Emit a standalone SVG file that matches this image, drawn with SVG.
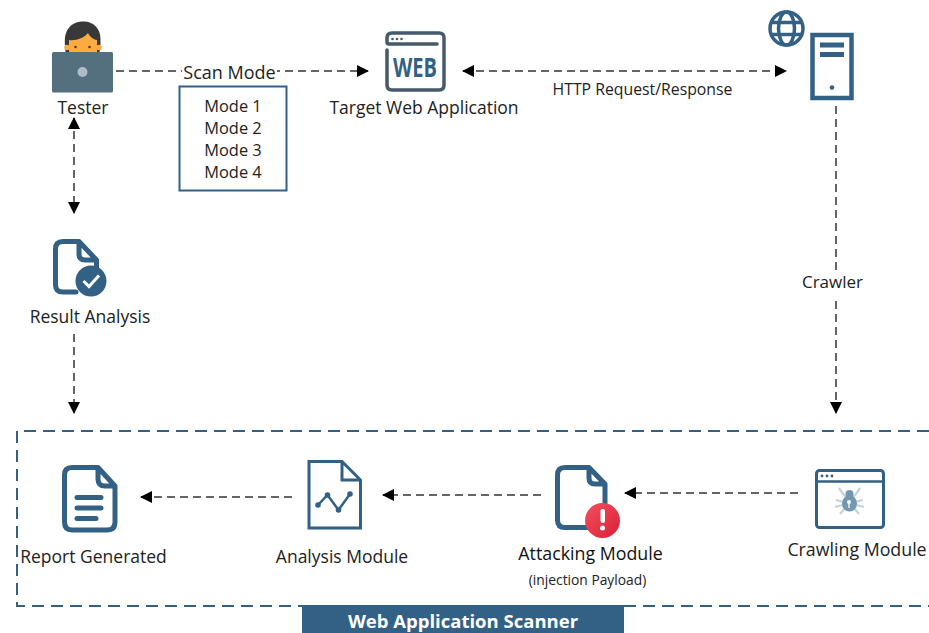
<svg xmlns="http://www.w3.org/2000/svg" width="929" height="633" viewBox="0 0 929 633">
<style>
text{font-family:"Open Sans","Noto Sans","Liberation Sans",sans-serif;fill:#222}
.l{font-size:17.500px;text-anchor:middle}
.c{fill:none;stroke:#333;stroke-width:1.5;stroke-dasharray:8 5}
.i{fill:none;stroke:#336186;stroke-width:5;stroke-linejoin:round;stroke-linecap:round}
.g{fill:none;stroke:#475a6b;stroke-width:3.5;stroke-linejoin:round;stroke-linecap:round}
</style>
<defs>
<marker id="a" viewBox="0 0 12 12" refX="11" refY="6" markerUnits="userSpaceOnUse" markerWidth="12" markerHeight="12" orient="auto-start-reverse"><path d="M0 0L12 6L0 12Z" fill="#000"/></marker>
<linearGradient id="r" x1="0" y1="0" x2="1" y2="1"><stop offset="0" stop-color="#f4505f"/><stop offset="1" stop-color="#d91f35"/></linearGradient>
</defs>
<rect width="929" height="633" fill="#fff"/>
<g id="connectors">
<path class="c" d="M116 71H368" marker-end="url(#a)"/>
<path class="c" d="M463 71H786" marker-start="url(#a)" marker-end="url(#a)"/>
<path class="c" d="M74 118V213" marker-start="url(#a)" marker-end="url(#a)"/>
<path class="c" d="M74 334V413" marker-end="url(#a)"/>
<path class="c" d="M836 106V413" marker-end="url(#a)"/>
<path class="c" d="M292 497H141" marker-end="url(#a)"/>
<path class="c" d="M541 495H383" marker-end="url(#a)"/>
<path class="c" d="M798 493H625" marker-end="url(#a)"/>
</g>
<g id="scanner-boundary">
<path d="M929 431H17V606H302M624 606H929" fill="none" stroke="#336186" stroke-width="2" stroke-dasharray="12 7"/>
</g>
<g id="scanner-banner">
<rect x="302" y="605" width="322" height="28" fill="#336186"/>
<text x="463" y="628" font-size="18.500" font-weight="700" text-anchor="middle" style="fill:#fff">Web Application Scanner</text>
</g>
<g id="scan-mode-label">
<rect x="182" y="60" width="95" height="24" fill="#fff"/>
<text x="229.500" y="79" font-size="18" text-anchor="middle">Scan Mode</text>
</g>
<g id="modes">
<rect x="179.500" y="86.500" width="107" height="104" fill="#fff" stroke="#336186" stroke-width="2"/>
<text x="233" y="112" font-size="16.400" text-anchor="middle">Mode 1</text>
<text x="233" y="134" font-size="16.400" text-anchor="middle">Mode 2</text>
<text x="233" y="156" font-size="16.400" text-anchor="middle">Mode 3</text>
<text x="233" y="178" font-size="16.400" text-anchor="middle">Mode 4</text>
</g>
<g id="tester">
<path d="M65.500 52C64.500 42 64 35 68 29C72 23 78 21.500 84 21.500C93 21.500 100.500 28 100.500 39C100.500 44 100.500 48 99.500 52Z" fill="#383838"/>
<path d="M69 52V40C76 41 84 38 88 33C90 37 94 40 97 40V52Z" fill="#fbab3f"/>
<circle cx="67" cy="47.500" r="2.800" fill="#fbab3f"/><circle cx="99" cy="47.500" r="2.800" fill="#fbab3f"/>
<circle cx="75.500" cy="47" r="1.300" fill="#5c3a12"/><circle cx="89.500" cy="47" r="1.300" fill="#5c3a12"/>
<rect x="52" y="52" width="61" height="40.500" rx="1.500" fill="#54707f"/>
<circle cx="82.500" cy="72" r="5" fill="#aebcc5"/>
<text x="83" y="114" class="l">Tester</text>
</g>
<g id="target-web-application">
<path class="g" d="M387 50V85Q387 90 392 90H439Q444 90 444 85V38Q444 33 439 33H392Q387 33 387 38V42Q387 44 389 44H437"/>
<circle cx="392.500" cy="39" r="1.300" fill="#475a6b"/><circle cx="397" cy="39" r="1.300" fill="#475a6b"/><circle cx="401.500" cy="39" r="1.300" fill="#475a6b"/>
<text x="415" y="76.500" font-size="26" font-weight="700" text-anchor="middle" style="fill:#336186" textLength="44" lengthAdjust="spacingAndGlyphs">WEB</text>
<text class="l" x="424" y="114">Target Web Application</text>
</g>
<g id="http-label"><text x="642.500" y="95" font-size="15.800" text-anchor="middle">HTTP Request/Response</text></g>
<g id="server">
<g fill="none" stroke="#336186" stroke-width="3.500">
<circle cx="786.500" cy="28.500" r="16.500"/>
<ellipse cx="786.500" cy="28.500" rx="8" ry="16.500"/>
<path d="M771 22.500H802M771 34.500H802"/>
</g>
<rect x="812.500" y="35" width="39" height="63" fill="none" stroke="#336186" stroke-width="4.500"/>
<rect x="820" y="42.500" width="24" height="5" fill="#336186"/>
<rect x="820" y="52" width="24" height="5" fill="#336186"/>
<circle cx="832" cy="87.500" r="2.300" fill="#336186"/>
</g>
<g id="crawler-label">
<rect x="800" y="270" width="66" height="26" fill="#fff"/>
<text x="832.500" y="288" font-size="17" text-anchor="middle">Crawler</text>
</g>
<g id="result-analysis">
<path class="i" d="M76 292H63Q55.500 292 55.500 285V249Q55.500 241.500 63 241.500H79L96.500 260V268M79 241.500V254Q79 260 85 260H96"/>
<circle cx="91" cy="281" r="15.500" fill="#336186"/>
<path d="M83.500 281L89 286.500L99 275.500" fill="none" stroke="#fff" stroke-width="3"/>
<text class="l" x="90" y="323">Result Analysis</text>
</g>
<g id="report-generated">
<path class="i" d="M98 467.500H72Q64.500 467.500 64.500 475V522Q64.500 530 72 530H107Q115 530 115 522V486ZM98 467.500V479Q98 486 105 486H115"/>
<path d="M77 497.500H101M77 508H101M77 518.500H96" fill="none" stroke="#336186" stroke-width="5" stroke-linecap="round"/>
<text class="l" x="93.500" y="563">Report Generated</text>
</g>
<g id="analysis-module">
<path d="M309 461.500H342L360.500 480V528H309ZM342 461.500V480H360.500" fill="none" stroke="#336186" stroke-width="3"/>
<path d="M318 505L327.500 495L338.500 510L350 494" fill="none" stroke="#336186" stroke-width="2.500"/>
<circle cx="318" cy="505" r="2.800" fill="#336186"/><circle cx="327.500" cy="495" r="2.800" fill="#336186"/><circle cx="338.500" cy="510" r="2.800" fill="#336186"/><circle cx="350" cy="494" r="2.800" fill="#336186"/>
<text class="l" x="342" y="563">Analysis Module</text>
</g>
<g id="attacking-module">
<path class="i" d="M590 527.500H565Q557.500 527.500 557.500 520V475Q557.500 467.500 565 467.500H589L605 484V505M589 467.500V478Q589 484 595 484H605"/>
<circle cx="602.500" cy="520.500" r="17.500" fill="url(#r)"/>
<rect x="600.500" y="509" width="4.500" height="14" rx="2" fill="#fff"/>
<circle cx="602.500" cy="528" r="2.500" fill="#fff"/>
<text x="590.500" y="560" font-size="17.800" text-anchor="middle" style="fill:#111">Attacking Module</text>
<text x="587.500" y="585" font-size="13.800" text-anchor="middle">(injection Payload)</text>
</g>
<g id="crawling-module">
<rect x="816.500" y="470.500" width="67" height="57" rx="3" fill="none" stroke="#336186" stroke-width="3"/>
<path d="M816.500 481.500H883.500" stroke="#336186" stroke-width="2.500"/>
<circle cx="822" cy="476" r="1.400" fill="#336186"/><circle cx="827" cy="476" r="1.400" fill="#336186"/><circle cx="832" cy="476" r="1.400" fill="#336186"/>
<path d="M839 488L843 494L846 497M860 488L856 494L853 497M836 500L844 502M863 500L855 502M835 507L843 505M864 507L856 505M840 514L845 508M859 514L854 508" fill="none" stroke="#c5d3dd" stroke-width="2.300"/>
<ellipse cx="849.500" cy="503.500" rx="7.500" ry="8" fill="#7497b0"/>
<circle cx="849.500" cy="494" r="4" fill="#7497b0"/>
<circle cx="849" cy="502" r="2" fill="#fff"/>
<path d="M849 503V508" stroke="#fff" stroke-width="1.300"/>
<text x="857" y="556" font-size="17.800" text-anchor="middle">Crawling Module</text>
</g>
</svg>
